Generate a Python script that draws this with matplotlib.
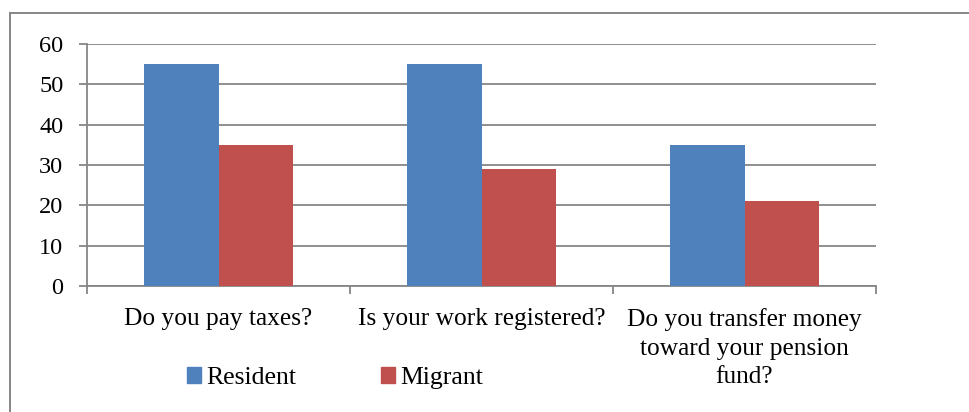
import matplotlib
matplotlib.use("Agg")
import matplotlib.pyplot as plt
import numpy as np
from matplotlib.lines import Line2D
from matplotlib.patches import Patch

categories = ["Do you pay taxes?",
              "Is your work registered?",
              "Do you transfer money\ntoward your pension\nfund?"]
resident = [55, 55, 35]
migrant = [35, 29, 21]
series_names = ["Resident", "Migrant"]
y_ticks = [0, 10, 20, 30, 40, 50, 60]

BLUE = "#4F81BD"
RED = "#C0504D"
GREY = "#868686"

plt.rcParams["font.family"] = ["Liberation Serif", "DejaVu Serif"]

W, H = 969, 412
fig = plt.figure(figsize=(W / 100, H / 100), dpi=100)

# outer chart frame (left and top edges visible)
fx0, fy0 = 10 / W, 1 - 13 / H
fig.add_artist(Line2D([fx0, fx0], [0, fy0], transform=fig.transFigure,
                      color=GREY, lw=1.4))
fig.add_artist(Line2D([fx0, 1], [fy0, fy0], transform=fig.transFigure,
                      color=GREY, lw=1.4))

left, right, top, bottom = 87, 876, 44, 286
ax = fig.add_axes([left / W, 1 - bottom / H, (right - left) / W, (bottom - top) / H])

x = np.arange(len(categories))
bw = 0.285
ax.bar(x - bw / 2, resident, bw, color=BLUE, zorder=3, label=series_names[0])
ax.bar(x + bw / 2, migrant, bw, color=RED, zorder=3, label=series_names[1])

ax.set_xlim(-0.5, len(categories) - 0.5)
ax.set_ylim(0, 60)
ax.set_yticks(y_ticks)
ax.yaxis.grid(True, color=GREY, lw=1.3, zorder=0)
ax.set_axisbelow(True)

for s in ["top", "right"]:
    ax.spines[s].set_visible(False)
for s in ["left", "bottom"]:
    ax.spines[s].set_color(GREY)
    ax.spines[s].set_linewidth(1.3)

ax.tick_params(axis="y", direction="out", length=6, width=1.3, color=GREY,
               pad=11, labelsize=17.5)
ax.set_xticks(x)
ax.set_xticklabels(categories, fontsize=18.3, linespacing=1.38)
ax.tick_params(axis="x", which="major", length=0, pad=16)
ax.set_xticks(np.arange(-0.5, len(categories)), minor=True)
ax.tick_params(axis="x", which="minor", direction="out", length=6, width=1.3,
               color=GREY)

handles = [Patch(color=BLUE, label=series_names[0]),
           Patch(color=RED, label=series_names[1])]
fig.legend(handles=handles, loc="center", bbox_to_anchor=(335 / W, 1 - 378 / H),
           ncol=2, frameon=False, fontsize=18.5, handlelength=0.55,
           handleheight=0.55, handletextpad=0.2, columnspacing=3.3,
           borderpad=0, borderaxespad=0)

fig.savefig("out.png", dpi=100)
